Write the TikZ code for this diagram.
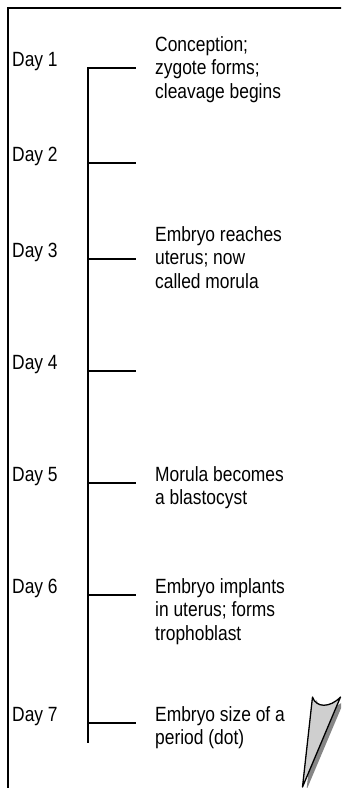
\documentclass[tikz,border=0pt]{standalone}
\usepackage{fontspec}
\setmainfont{Liberation Sans}[FakeStretch=0.845]
\begin{document}
\begin{tikzpicture}[x=1pt,y=-1pt,
  txt/.style={anchor=base west, inner sep=0pt, align=left,
    font=\fontsize{20.6}{23.7}\selectfont},
  rule/.style={line width=1.8pt, line cap=butt},
  frame/.style={line width=1.8pt},
  curl/.style={draw=black, line width=1.3pt, fill=gray!38, line join=round},
  curlshadow/.style={fill=gray!95!white}]
\useasboundingbox (0,0) rectangle (341,788);
\clip (0,0) rectangle (341,788);
% frame
\coordinate (fb) at (8,790);
\coordinate (fc) at (8,8);
\coordinate (fr) at (343,8);
\draw[frame] (fb) -- (fc) -- (fr);
% axis
\coordinate (axtop) at (88,67.1);
\coordinate (axbot) at (88,743);
\draw[rule] (axtop) -- (axbot);
% ticks
\foreach \i/\t in {1/68,2/163,3/259,4/371,5/483,6/595,7/723}{
  \coordinate (t\i) at (88,\t);
  \coordinate (e\i) at (136,\t);
  \draw[rule] (t\i) -- (e\i);
  \node[txt] (d\i) at (12,\t-2) {Day \i};
}
% descriptions (anchor = baseline of last line)
\node[txt] (n1) at (155,98.4) {Conception;\\zygote forms;\\cleavage begins};
\node[txt] (n3) at (155,288.4) {Embryo reaches\\uterus; now\\called morula};
\node[txt] (n5) at (155,504.7) {Morula becomes\\a blastocyst};
\node[txt] (n6) at (155,640.4) {Embryo implants\\in uterus; forms\\trophoblast};
\node[txt] (n7) at (155,744.7) {Embryo size of a\\period (dot)};
% page curl
\coordinate (cA) at (312.5,697);
\coordinate (cB) at (340.5,697);
\coordinate (cC) at (302.5,787);
\fill[curlshadow, shift={(4,3)}] (312.5,697) .. controls (316,708) and (330,708) .. (340.5,697) -- (302.5,787) -- cycle;
\draw[curl] (cA) .. controls (316,708) and (330,708) .. (cB) -- (cC) -- cycle;
\end{tikzpicture}
\end{document}
